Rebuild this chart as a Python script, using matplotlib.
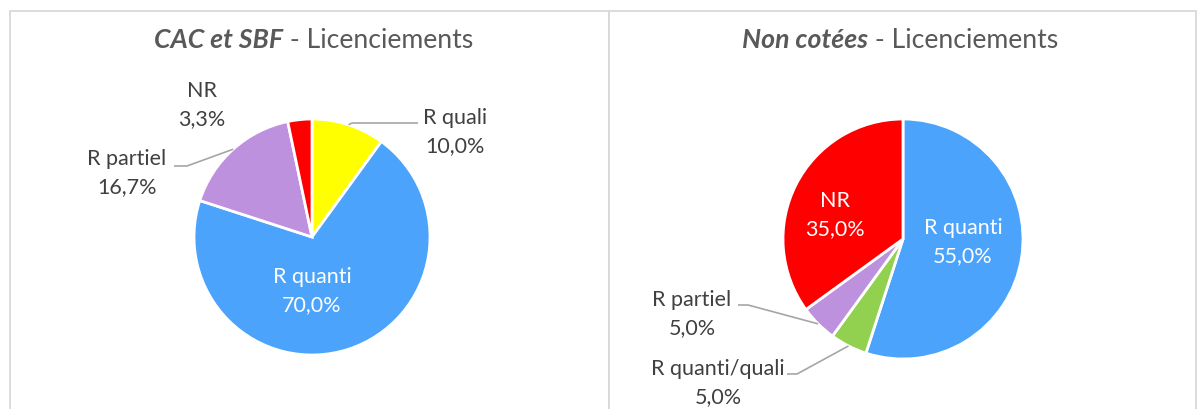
import numpy as np
import matplotlib
matplotlib.use('Agg')
import matplotlib.pyplot as plt
from matplotlib.patches import Rectangle

plt.rcParams['font.family'] = ['Lato', 'DejaVu Sans']

# data (clockwise from 12 o'clock, as in the source)
cac_labels = ['R quali', 'R quanti', 'R partiel', 'NR']
cac_values = [10.0, 70.0, 16.7, 3.3]
cac_colors = ['#FFFF00', '#4BA3FB', '#BE91DF', '#FF0000']

nc_labels = ['R quanti', 'R quanti/quali', 'R partiel', 'NR']
nc_values = [55.0, 5.0, 5.0, 35.0]
nc_colors = ['#4BA3FB', '#92D050', '#BE91DF', '#FF0000']

W, H = 1197, 410
fig = plt.figure(figsize=(W / 100, H / 100), dpi=100)

def px_axes(cx, cy, r):
    # axes whose data box [-1,1]^2 sits on a pixel circle
    return fig.add_axes([(cx - r) / W, (H - cy - r) / H, 2 * r / W, 2 * r / H])

def fmt(v):
    return f'{v:.1f}%'.replace('.', ',')

TXT = '#404040'
LINE = '#A6A6A6'

def draw_pie(ax, labels, values, colors, cx, cy, r, place):
    wedges, _ = ax.pie(values, colors=colors, startangle=90, counterclock=False,
                       wedgeprops=dict(edgecolor='white', linewidth=2), radius=1)
    ax.set_xlim(-1, 1); ax.set_ylim(-1, 1)
    ax.set_aspect('equal'); ax.axis('off')
    for w, lab, v in zip(wedges, labels, values):
        mid = np.deg2rad((w.theta1 + w.theta2) / 2)
        tx, ty, inside, leader = place[lab]
        # label position given in pixels -> data coords
        dx, dy = (tx - cx) / r, (cy - ty) / r
        ax.text(dx, dy, f'{lab}\n{fmt(v)}', ha='center', va='center',
                fontsize=15.5, color='white' if inside else TXT,
                linespacing=1.55, clip_on=False)
        if leader is not None:
            lx0, lx1, ly = leader
            ex, ey = 1.0 * np.cos(mid), 1.0 * np.sin(mid)
            ax.plot([(lx0 - cx) / r, (lx1 - cx) / r, ex], [(cy - ly) / r] * 2 + [ey],
                    color=LINE, lw=1.2, clip_on=False, solid_capstyle='butt')

ax1 = px_axes(312, 238, 118)
draw_pie(ax1, cac_labels, cac_values, cac_colors, 312, 238, 118, {
    'R quali': (455, 132, False, (418, 352, 124)),
    'R quanti': (312, 291, True, None),
    'R partiel': (127, 173, False, (174, 187, 167)),
    'NR': (202, 105, False, None),
})

ax2 = px_axes(903, 240, 120)
draw_pie(ax2, nc_labels, nc_values, nc_colors, 903, 240, 120, {
    'R quanti': (963, 242, True, None),
    'R quanti/quali': (718, 383, False, (787, 797, 375)),
    'R partiel': (692, 314, False, (738, 748, 306)),
    'NR': (835, 215, True, None),
})

# panel borders
for x0, x1 in [(10, 609), (609, 1196)]:
    fig.add_artist(Rectangle((x0 / W, -0.1), (x1 - x0) / W, (H - 12) / H + 0.1,
                             transform=fig.transFigure, fill=False,
                             edgecolor='#D9D9D9', lw=1.3))

# titles: bold italic part + regular part, centred together
TCOL = '#595959'
fig.canvas.draw()
rend = fig.canvas.get_renderer()
for cx, bold in [(314, 'CAC et SBF'), (900, 'Non cotées')]:
    y = 1 - 40 / H
    t1 = fig.text(0, y, bold, fontsize=19.2, fontweight='bold', fontstyle='italic',
                  color=TCOL, va='center', ha='left')
    t2 = fig.text(0, y, ' - Licenciements', fontsize=19.2, color=TCOL, va='center', ha='left')
    w1 = t1.get_window_extent(rend).width
    w2 = t2.get_window_extent(rend).width
    x0 = cx - (w1 + w2) / 2
    t1.set_x(x0 / W)
    t2.set_x((x0 + w1) / W)

fig.savefig('out.png', dpi=100)
